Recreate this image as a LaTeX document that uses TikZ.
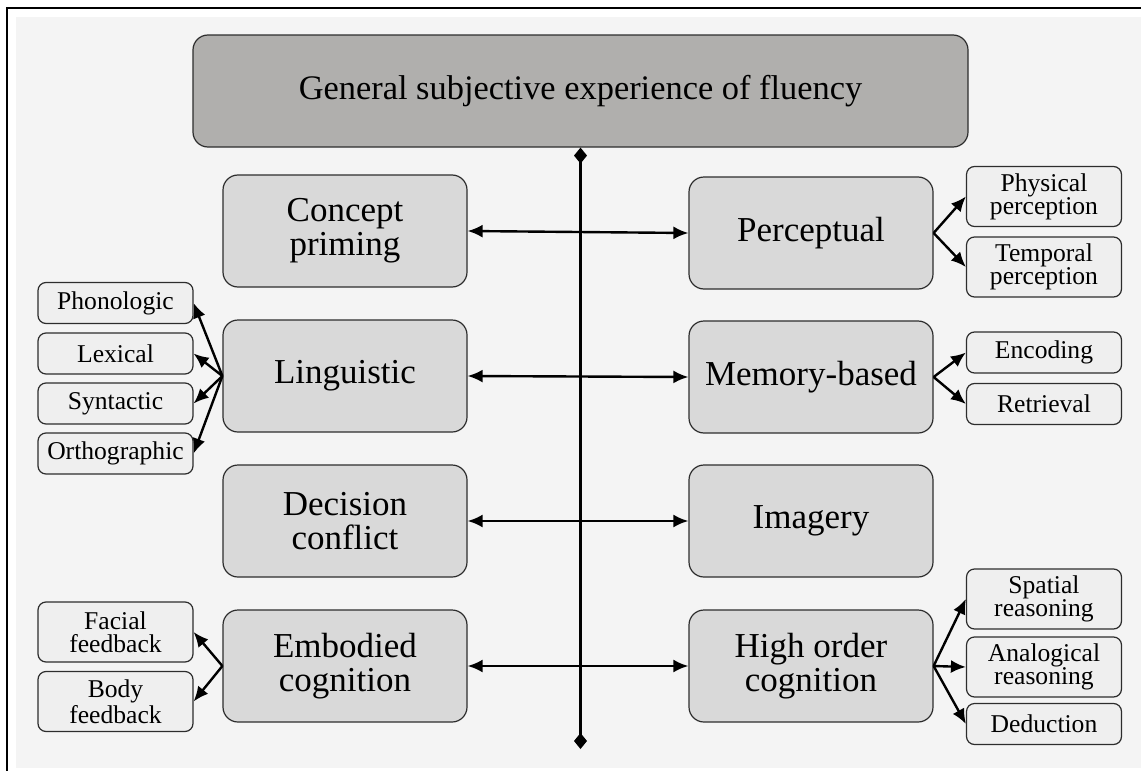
\documentclass[tikz,border=0pt]{standalone}
\usepackage{fontspec}
\setmainfont{Liberation Serif}
\usetikzlibrary{arrows.meta,positioning,calc}
\definecolor{topgray}{RGB}{176,175,173}
\definecolor{maingray}{RGB}{217,217,217}
\definecolor{subgray}{RGB}{239,239,239}
\definecolor{backgray}{RGB}{244,244,244}
\definecolor{linegray}{RGB}{45,45,45}

\tikzset{
	topbox/.style={draw=linegray, line width=0.6pt, fill=topgray, rounded corners=7.5pt, minimum width=387.5pt, minimum height=56pt, font=\fontsize{17.2}{17}\selectfont},
	mainbox/.style={draw=linegray, line width=0.6pt, fill=maingray, rounded corners=7.5pt, minimum width=122pt, minimum height=56pt, align=center, font=\fontsize{17.5}{17}\selectfont},
	subbox/.style={draw=linegray, line width=0.6pt, fill=subgray, rounded corners=4pt, minimum width=77.5pt, minimum height=20.5pt, inner sep=1pt, align=center, font=\fontsize{12.8}{11.5}\selectfont},
	tallbox/.style={subbox, minimum height=30pt}
}

\begin{document}
\begin{tikzpicture}[x=0.5pt, y=-0.5pt]
	\useasboundingbox (0,0) rectangle (1141,771);
	\fill[backgray] (16,17) rectangle (1141,768);
	\draw[line width=1pt] (7,771) -- (7,8) -- (1141,8);
	
	\node[topbox] (T) at (580.5,91) {General subjective experience of fluency};
	
	\node[mainbox] (A) at (345,231) {Concept\\priming};
	\node[mainbox] (B) at (345,376) {Linguistic};
	\node[mainbox] (C) at (345,521) {Decision\\conflict};
	\node[mainbox] (D) at (345,666) {Embodied\\cognition};
	\node[mainbox] (E) at (811,233) {Perceptual};
	\node[mainbox] (F) at (811,377) {Memory-based};
	\node[mainbox] (G) at (811,521) {Imagery};
	\node[mainbox] (H) at (811,666) {High order\\cognition};
	
	\node[subbox] (B1) at (115.5,303) {Phonologic};
	\node[subbox] (B2) at (115.5,353.5) {Lexical};
	\node[subbox] (B3) at (115.5,403.5) {Syntactic};
	\node[subbox] (B4) at (115.5,453.5) {Orthographic};
	\node[tallbox] (D1) at (115.5,632) {Facial\\feedback};
	\node[tallbox] (D2) at (115.5,701.5) {Body\\feedback};
	\node[tallbox] (E1) at (1044,196.5) {Physical\\perception};
	\node[tallbox] (E2) at (1044,267) {Temporal\\perception};
	\node[subbox] (F1) at (1044,352.5) {Encoding};
	\node[subbox] (F2) at (1044,404) {Retrieval};
	\node[tallbox] (H1) at (1044,599) {Spatial\\reasoning};
	\node[tallbox] (H2) at (1044,667) {Analogical\\reasoning};
	\node[subbox] (H3) at (1044,724) {Deduction};
	\coordinate (Z) at (580.5,749);
	
	\draw[{Diamond[length=8pt,width=6.5pt]}-{Diamond[length=8pt,width=6.5pt]}, line width=1.2pt] (T.south) -- (Z);
	
	\path[<->, line width=1.2pt, >={Latex[length=7.5pt,width=6.5pt]}] (A.east) edge (E.west);
	\path[<->, line width=1.2pt, >={Latex[length=7.5pt,width=6.5pt]}] (B.east) edge (F.west);
	\path[<->, line width=1.2pt, >={Latex[length=7.5pt,width=6.5pt]}] (C.east) edge (G.west);
	\path[<->, line width=1.2pt, >={Latex[length=7.5pt,width=6.5pt]}] (D.east) edge (H.west);
	
	\path[->, line width=1.2pt, >={Latex[length=7.5pt,width=6.5pt]}] (B.west) edge (B1.east);
	\path[->, line width=1.2pt, >={Latex[length=7.5pt,width=6.5pt]}] (B.west) edge (B2.east);
	\path[->, line width=1.2pt, >={Latex[length=7.5pt,width=6.5pt]}] (B.west) edge (B3.east);
	\path[->, line width=1.2pt, >={Latex[length=7.5pt,width=6.5pt]}] (B.west) edge (B4.east);
	\path[->, line width=1.2pt, >={Latex[length=7.5pt,width=6.5pt]}] (D.west) edge (D1.east);
	\path[->, line width=1.2pt, >={Latex[length=7.5pt,width=6.5pt]}] (D.west) edge (D2.east);
	\path[->, line width=1.2pt, >={Latex[length=7.5pt,width=6.5pt]}] (E.east) edge (E1.west);
	\path[->, line width=1.2pt, >={Latex[length=7.5pt,width=6.5pt]}] (E.east) edge (E2.west);
	\path[->, line width=1.2pt, >={Latex[length=7.5pt,width=6.5pt]}] (F.east) edge (F1.west);
	\path[->, line width=1.2pt, >={Latex[length=7.5pt,width=6.5pt]}] (F.east) edge (F2.west);
	\path[->, line width=1.2pt, >={Latex[length=7.5pt,width=6.5pt]}] (H.east) edge (H1.west);
	\path[->, line width=1.2pt, >={Latex[length=7.5pt,width=6.5pt]}] (H.east) edge (H2.west);
	\path[->, line width=1.2pt, >={Latex[length=7.5pt,width=6.5pt]}] (H.east) edge (H3.west);
	
\end{tikzpicture}
\end{document}
